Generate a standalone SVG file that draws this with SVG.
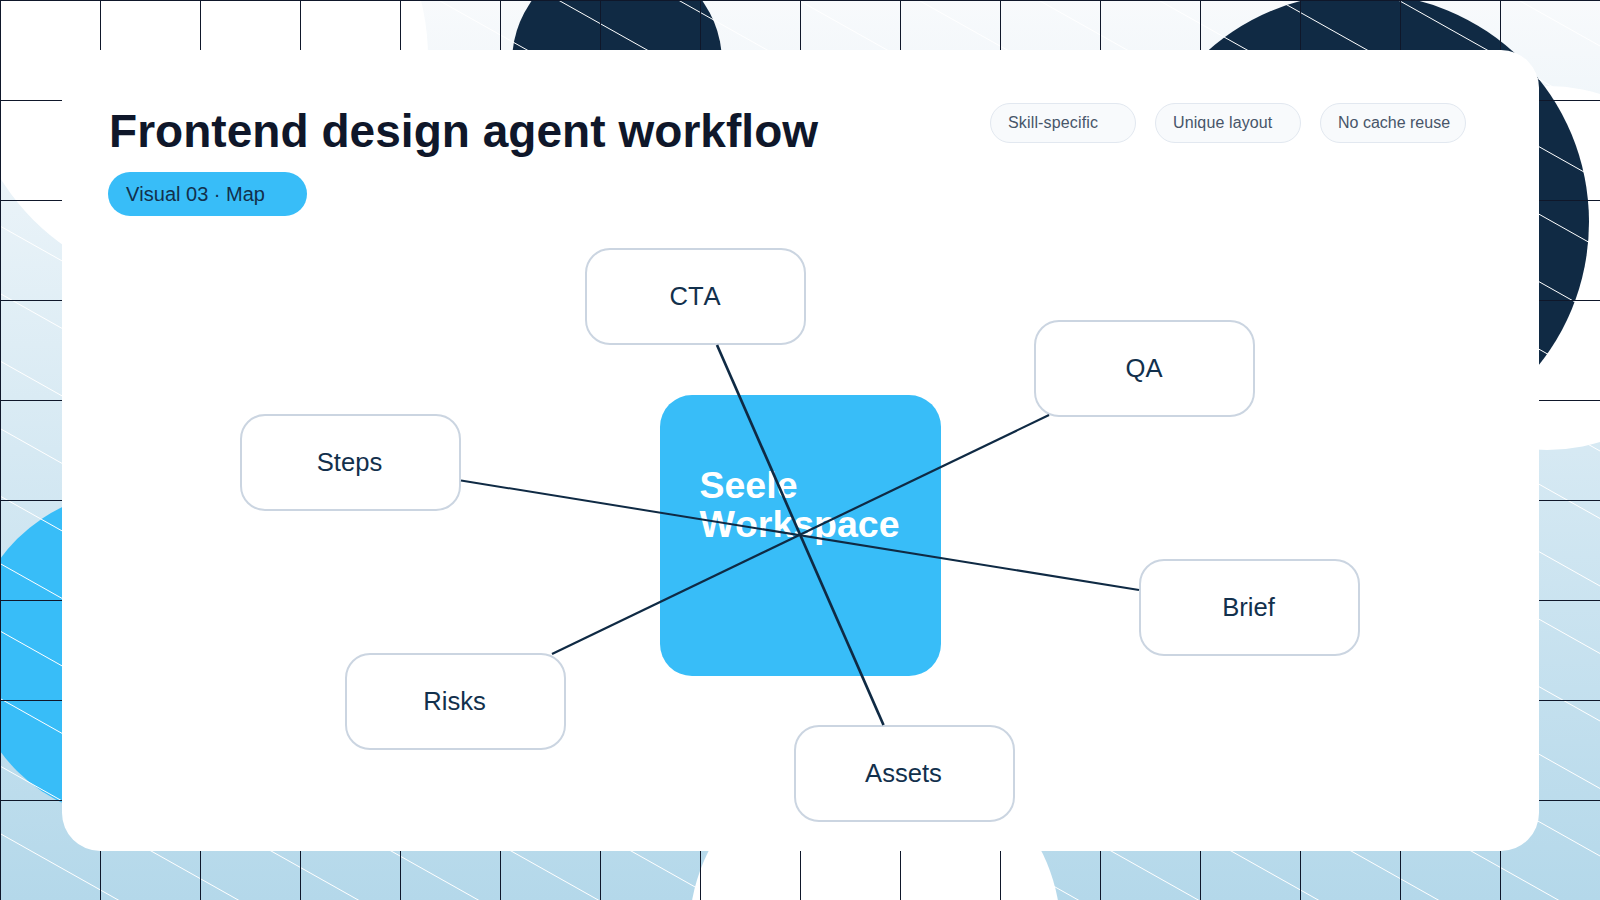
<svg xmlns="http://www.w3.org/2000/svg" width="1600" height="900" viewBox="0 0 1600 900">
<style>
text{font-family:"Liberation Sans",Arial,sans-serif;font-kerning:none;font-variant-ligatures:none}
.node rect{fill:#fff;stroke:#cbd5e1;stroke-width:2}
.node text{font-size:25.6px;fill:#12304c;text-anchor:middle}
.chip rect{fill:#f8fafc;stroke:#e2e8f0;stroke-width:1}
.chip text{font-size:16px;fill:#475569}
.wire{stroke:#0f2a44;fill:none}
</style>
<defs>
<linearGradient id="bg" x1="0" y1="0" x2="0" y2="1"><stop offset="0" stop-color="#f8fafc"/><stop offset="1" stop-color="#b4d8ea"/></linearGradient>
<pattern id="grid" patternUnits="userSpaceOnUse" width="100" height="100"><path d="M0 .5H100M.5 0V100" stroke="#0f172a" stroke-width="1" fill="none"/></pattern>
<pattern id="diag" patternUnits="userSpaceOnUse" width="100" height="67.5" patternTransform="matrix(1 .5625 0 1 0 23)"><rect width="100" height="1" fill="#fff"/></pattern>
</defs>
<g id="background">
<rect width="1600" height="900" fill="url(#bg)"/>
<circle cx="197" cy="57" r="231" fill="#fff"/>
<circle cx="1547" cy="268" r="182" fill="#fff"/>
<circle cx="875" cy="934" r="186" fill="#fff"/>
<circle cx="617" cy="62" r="105" fill="#102a44"/>
<circle cx="1360" cy="222" r="229" fill="#102a44"/>
<circle cx="133" cy="655" r="164" fill="#38bdf8"/>
<rect width="1600" height="900" fill="url(#diag)"/>
<rect width="1600" height="900" fill="url(#grid)"/>
</g>
<rect id="card" x="62" y="50" width="1477" height="801" rx="38" fill="#fff"/>
<g id="header">
<text x="109" y="147" font-size="46" font-weight="700" fill="#0f172a" letter-spacing=".04">Frontend design agent workflow</text>
<g id="pill"><rect x="108" y="172" width="199" height="44" rx="22" fill="#38bdf8"/><text x="126" y="201" font-size="20" fill="#12304c" xml:space="preserve">Visual 03 · Map</text></g>
<g class="chip" id="chip-skill"><rect x="990.5" y="103.5" width="145" height="39" rx="19.5"/><text x="1008" y="127.5" letter-spacing=".15">Skill-specific</text></g>
<g class="chip" id="chip-layout"><rect x="1155.5" y="103.5" width="145" height="39" rx="19.5"/><text x="1173" y="127.5" letter-spacing=".12">Unique layout</text></g>
<g class="chip" id="chip-cache"><rect x="1320.5" y="103.5" width="145" height="39" rx="19.5"/><text x="1338" y="127.5">No cache reuse</text></g>
</g>
<g id="hub"><rect x="660" y="395" width="281" height="281" rx="32" fill="#38bdf8"/><text x="699.5" y="497.5" font-size="37.5" font-weight="700" fill="#fff">Seele</text><text x="699.5" y="537" font-size="37.5" font-weight="700" fill="#fff">Workspace</text></g>
<g id="node-cta" class="node"><rect x="586" y="249" width="219" height="95" rx="24"/><text x="695" y="305">CTA</text></g>
<g id="node-qa" class="node"><rect x="1035" y="321" width="219" height="95" rx="24"/><text x="1144" y="377">QA</text></g>
<g id="node-steps" class="node"><rect x="241" y="415" width="219" height="95" rx="24"/><text x="349.5" y="471">Steps</text></g>
<g id="node-brief" class="node"><rect x="1140" y="560" width="219" height="95" rx="24"/><text x="1248.5" y="616">Brief</text></g>
<g id="node-risks" class="node"><rect x="346" y="654" width="219" height="95" rx="24"/><text x="454.5" y="710">Risks</text></g>
<g id="node-assets" class="node"><rect x="795" y="726" width="219" height="95" rx="24"/><text x="903.5" y="782">Assets</text></g>
<g id="connectors">
<line class="wire" stroke-width="2.7" x1="717" y1="345" x2="883.5" y2="725"/>
<line class="wire" stroke-width="2" x1="461" y1="480.5" x2="1139" y2="590"/>
<line class="wire" stroke-width="2.2" x1="552" y1="654" x2="1049" y2="415"/>
</g>
</svg>
